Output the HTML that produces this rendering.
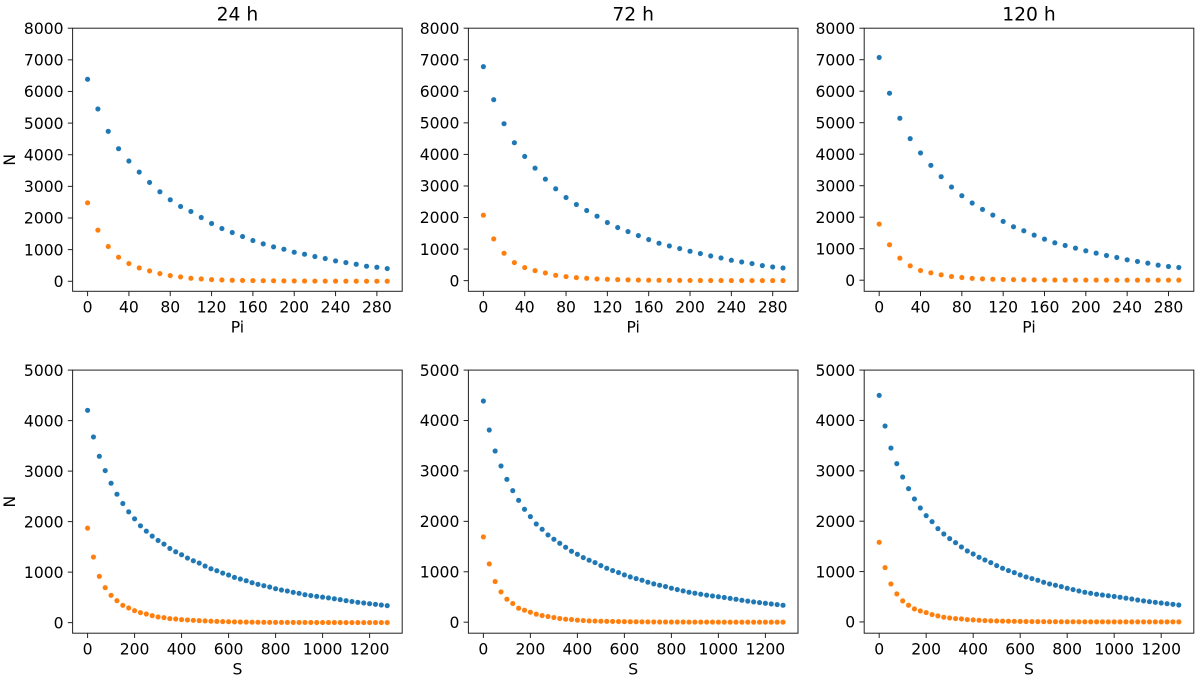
<!DOCTYPE html>
<html>
<head>
<meta charset="utf-8">
<title>N vs Pi and S at 24, 72 and 120 h</title>
<style>
html,body{margin:0;padding:0;background:#fff;}
svg{display:block;}
text{font-family:"DejaVu Sans","Liberation Sans",sans-serif;fill:#000;}
</style>
</head>
<body>
<svg id="figure" width="1200" height="681" viewBox="0 0 1200 681" xmlns="http://www.w3.org/2000/svg"></svg>
<script>
const piValues = [0,10,20,30,40,50,60,70,80,90,100,110,120,130,140,150,160,170,180,190,200,210,220,230,240,250,260,270,280,290];
const sValues = [0,25,50,75,100,125,150,175,200,225,250,275,300,325,350,375,400,425,450,475,500,525,550,575,600,625,650,675,700,725,750,775,800,825,850,875,900,925,950,975,1000,1025,1050,1075,1100,1125,1150,1175,1200,1225,1250,1275];

const piTicks = [0,40,80,120,160,200,240,280];
const sTicks = [0,200,400,600,800,1000,1200];
const piYTicks = [0,1000,2000,3000,4000,5000,6000,7000,8000];
const sYTicks = [0,1000,2000,3000,4000,5000];

const hourTitles = ["24 h","72 h","120 h"];

const pi24Blue = [6385,5446,4739,4190,3800,3451,3124,2828,2575,2364,2206,2016,1826,1667,1541,1414,1288,1182,1087,1013,918,855,781,718,644,591,538,475,443,401];
const pi24Orange = [2480,1615,1098,760,559,422,327,243,179,137,95,74,53,42,32,26,21,18,15,12,10,8,6,5,4,3,3,2,2,2];
const pi72Blue = [6782,5734,4973,4370,3936,3565,3216,2910,2634,2412,2222,2042,1841,1682,1555,1428,1301,1185,1100,1016,931,857,783,719,645,592,540,476,434,402];
const pi72Orange = [2074,1322,868,571,413,317,243,169,127,95,74,53,42,32,24,18,14,11,9,7,5,4,3,3,2,2,1,1,1,1];
const pi120Blue = [7070,5936,5141,4494,4039,3646,3286,2957,2682,2449,2247,2067,1866,1696,1569,1431,1304,1187,1102,1018,933,859,784,721,647,594,541,477,435,403];
const pi120Orange = [1781,1124,700,456,307,233,170,117,85,58,42,32,24,18,14,11,8,6,5,4,3,3,2,2,1,1,1,1,1,1];

const s24Blue = [4203,3676,3294,3010,2760,2543,2358,2194,2055,1917,1811,1713,1627,1555,1469,1403,1344,1278,1225,1179,1120,1067,1028,981,942,896,863,830,790,758,731,705,672,646,626,600,580,553,536,520,505,490,472,455,435,418,402,389,375,362,349,336];
const s24Orange = [1871,1298,916,692,540,435,343,290,237,198,171,138,112,99,79,72,59,53,46,40,34,29,25,21,18,15,13,11,9,8,7,6,5,5,4,4,3,3,3,2,2,2,2,2,1,1,1,1,1,1,1,1];
const s72Blue = [4386,3811,3395,3098,2833,2609,2417,2239,2094,1948,1843,1730,1645,1565,1486,1407,1347,1281,1229,1182,1123,1070,1024,984,938,898,865,832,793,760,733,707,674,647,621,594,575,555,536,520,505,490,472,455,435,418,402,389,375,362,349,336];
const s72Orange = [1691,1156,806,601,456,370,277,238,198,159,132,112,92,73,59,53,40,33,26,23,20,17,15,13,11,9,8,7,6,5,4,4,3,3,3,2,2,2,2,2,1,1,1,1,1,1,1,1,1,1,1,1];
const s120Blue = [4498,3889,3452,3142,2877,2646,2441,2262,2110,1991,1852,1746,1654,1574,1488,1409,1349,1283,1230,1177,1118,1065,1019,979,933,893,860,827,787,754,728,701,668,642,615,589,569,549,534,520,505,490,472,455,435,418,402,389,375,362,349,336];
const s120Orange = [1581,1078,754,556,417,331,258,218,185,146,119,93,79,66,60,46,40,33,26,22,19,16,14,12,10,8,7,6,5,4,4,3,3,3,2,2,2,2,2,1,1,1,1,1,1,1,1,1,1,1,1,1];

const NS = "http://www.w3.org/2000/svg";
const fig = document.getElementById("figure");
const BLUE = "#1f77b4", ORANGE = "#ff7f0e", INK = "#222";

function add(parent, tag, attrs, txt) {
  const el = document.createElementNS(NS, tag);
  for (const k in attrs) el.setAttribute(k, attrs[k]);
  if (txt !== undefined) el.textContent = txt;
  parent.appendChild(el);
  return el;
}

function drawPanel(name, left, top, xs, blue, orange, xTicks, yTicks, xLabel, showY, title) {
  const W = 329.6, H = 263.1;
  const bottom = top + H, right = left + W;
  const xMin = Math.min(...xs), xMax = Math.max(...xs);
  const pad = (xMax - xMin) * 0.05;
  const xLo = xMin - pad, xHi = xMax + pad;
  const all = blue.concat(orange);
  const dMax = Math.max(...all), dMin = Math.min(...all);
  const yLo = dMin - (dMax - dMin) * 0.05;
  const yHi = yTicks[yTicks.length - 1];
  const xScale = v => left + (v - xLo) / (xHi - xLo) * W;
  const yScale = v => bottom - (v - yLo) / (yHi - yLo) * H;

  const g = add(fig, "g", {});
  
  

  const frame = add(g, "rect", {x:left, y:top, width:W, height:H, fill:"#fff", stroke:"none"});
  
  

  const drawSeries = (values, color, label) => {
    const sg = add(g, "g", {});
    
    
    values.forEach((v, i) => {
      const c = add(sg, "circle", {cx:xScale(xs[i]), cy:yScale(v), r:2.75, fill:color, stroke:"#fff", "stroke-width":0.4});
      
      
    });
  };
  drawSeries(blue, BLUE, "blue");
  drawSeries(orange, ORANGE, "orange");

  const border = add(g, "rect", {x:left, y:top, width:W, height:H, fill:"none", stroke:INK, "stroke-width":1});
  
  

  xTicks.forEach(t => {
    const x = xScale(t);
    const tk = add(g, "line", {x1:x, x2:x, y1:bottom, y2:bottom + 4.8, stroke:INK, "stroke-width":1});
    
    
    const lb = add(g, "text", {x:x, y:bottom + 21.3, "text-anchor":"middle", "font-size":15.6}, String(t));
    
    
  });
  yTicks.forEach(t => {
    const y = yScale(t);
    const tk = add(g, "line", {x1:left - 4.8, x2:left, y1:y, y2:y, stroke:INK, "stroke-width":1});
    
    
    const lb = add(g, "text", {x:left - 9, y:y + 5.7, "text-anchor":"end", "font-size":15.6}, String(t));
    
    
  });

  const xl = add(g, "text", {x:left + W / 2, y:bottom + 41.3, "text-anchor":"middle", "font-size":15.6}, xLabel);
  
  

  if (showY) {
    const cy = top + H / 2;
    const yl = add(g, "text", {x:15, y:cy, "text-anchor":"middle", "font-size":15.6, transform:"rotate(-90 15 " + cy + ")"}, "N");
    
    
  }
  if (title) {
    const tt = add(g, "text", {x:left + W / 2, y:20.7, "text-anchor":"middle", "font-size":18.7}, title);
    
    
  }
}

const TOP_ROW = 28.2, BOTTOM_ROW = 370.1;
drawPanel("pi-24h", 72.6, TOP_ROW, piValues, pi24Blue, pi24Orange, piTicks, piYTicks, "Pi", true, hourTitles[0]);
drawPanel("pi-72h", 468.4, TOP_ROW, piValues, pi72Blue, pi72Orange, piTicks, piYTicks, "Pi", false, hourTitles[1]);
drawPanel("pi-120h", 864.2, TOP_ROW, piValues, pi120Blue, pi120Orange, piTicks, piYTicks, "Pi", false, hourTitles[2]);
drawPanel("s-24h", 72.6, BOTTOM_ROW, sValues, s24Blue, s24Orange, sTicks, sYTicks, "S", true, null);
drawPanel("s-72h", 468.4, BOTTOM_ROW, sValues, s72Blue, s72Orange, sTicks, sYTicks, "S", false, null);
drawPanel("s-120h", 864.2, BOTTOM_ROW, sValues, s120Blue, s120Orange, sTicks, sYTicks, "S", false, null);
</script>
</body>
</html>
